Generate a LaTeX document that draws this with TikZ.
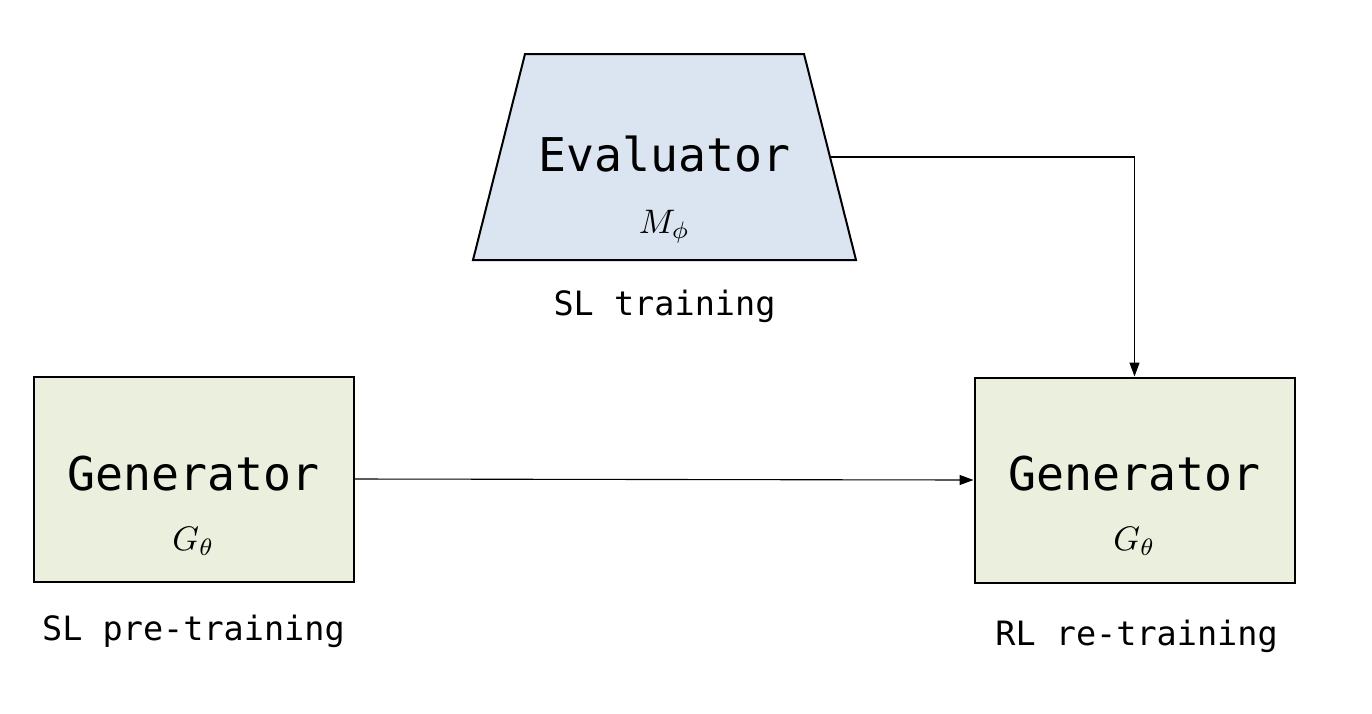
\documentclass[tikz,border=0pt]{standalone}
\usepackage{graphicx}
\usepackage{fontspec}
\newfontfamily\monof{DejaVu Sans Mono}
\usetikzlibrary{arrows.meta}
\definecolor{evblue}{RGB}{219,228,241}
\definecolor{gengreen}{RGB}{235,240,222}
\newcommand{\bigmath}[1]{\scalebox{3.4}{$#1$}}
\begin{document}
\begin{tikzpicture}[x=1pt,y=-1pt,
  genbox/.style={draw=black,line width=2pt,fill=gengreen,minimum width=320pt,minimum height=205pt,inner sep=0pt},
  trapbox/.style={draw=black,line width=2pt,fill=evblue,line join=miter},
  ttltext/.style={font=\monof\fontsize{46.5}{52}\selectfont,anchor=base,inner sep=0pt},
  symtext/.style={anchor=base,inner sep=0pt},
  captext/.style={font=\monof\fontsize{33.5}{40}\selectfont,anchor=base,inner sep=0pt},
  conn/.style={line width=1.1pt,-{Triangle[length=14pt,width=10pt]}}]
\useasboundingbox (0,0) rectangle (1372,713);
\draw[trapbox] (525,54) -- (804,54) -- (856,260) -- (473,260) -- cycle;
\coordinate (ev) at (831,157);
\node[ttltext] (evt) at (664.5,171) {Evaluator};
\node[symtext] (evs) at (664.5,233) {\bigmath{M_\phi}};
\node[captext] (evc) at (664.5,315) {SL training};

\node[genbox] (g1) at (193.5,479) {};
\node[ttltext] (g1t) at (193.5,490) {Generator};
\node[symtext] (g1s) at (193.5,550) {\bigmath{G_\theta}};
\node[captext] (g1c) at (193.5,640) {SL pre-training};

\node[genbox] (g2) at (1134.5,480) {};
\node[ttltext] (g2t) at (1134.5,490) {Generator};
\node[symtext] (g2s) at (1134.5,550) {\bigmath{G_\theta}};
\node[captext] (g2c) at (1136.5,645) {RL re-training};

\draw[conn] (g1.east) -- (g2.west);
\draw[conn] (ev) -| (g2.north);
\end{tikzpicture}
\end{document}
